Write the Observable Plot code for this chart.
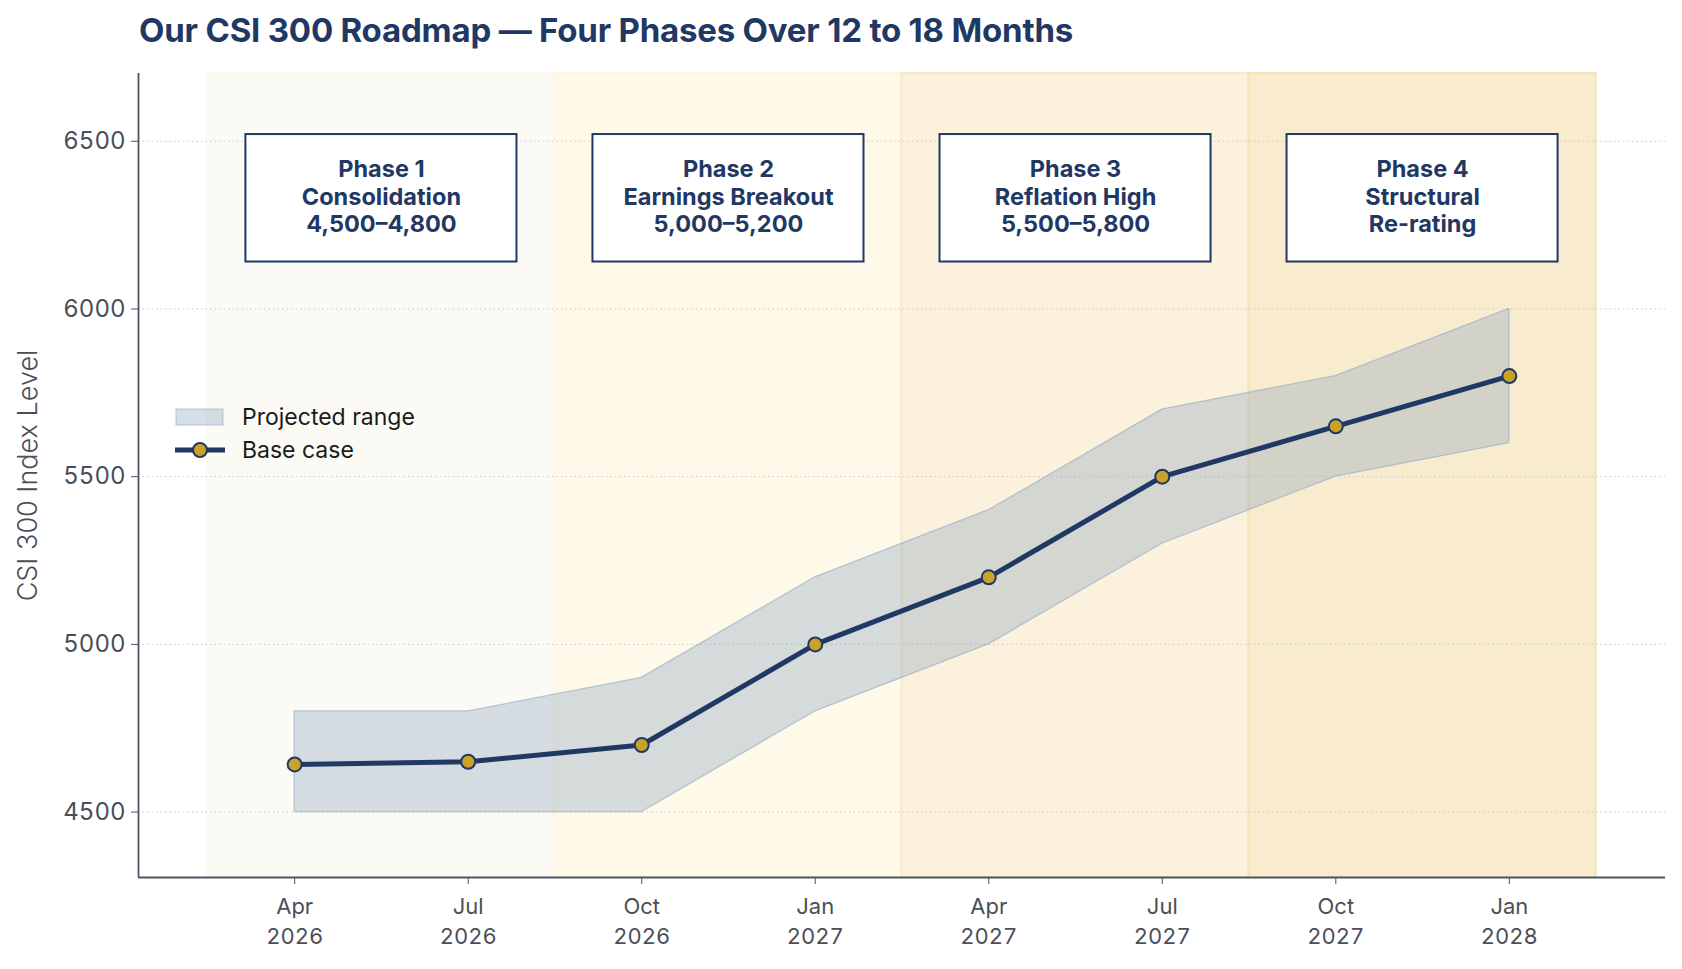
<!DOCTYPE html>
<html>
<head>
<meta charset="utf-8">
<script src="https://cdn.jsdelivr.net/npm/d3@7"></script>
<script src="https://cdn.jsdelivr.net/npm/@observablehq/plot@0.6"></script>
<style>
  html, body { margin: 0; padding: 0; background: #ffffff; }
  body { font-family: Inter, "DejaVu Sans", sans-serif; width: 1682px; height: 969px; position: relative; overflow: hidden; }
  #title { position: absolute; left: 139px; top: 10px; font-size: 33px; font-weight: 700; color: #1f3864; letter-spacing: -0.2px; white-space: nowrap; }
  #chart { position: absolute; left: 0; top: 60px; }
  #legend { position: absolute; left: 175px; top: 400px; font-size: 23px; color: #1a1a1a; }
  .lg-row { display: flex; align-items: center; height: 33px; }
  .lg-row svg { margin-right: 17px; }
</style>
</head>
<body>
<div id="title">Our CSI 300 Roadmap — Four Phases Over 12 to 18 Months</div>
<div id="chart"></div>
<div id="legend">
  <div class="lg-row"><svg width="50" height="20"><rect x="1" y="2" width="47" height="16" fill="#8aa4c0" fill-opacity="0.35" stroke="#9bb4c9" stroke-opacity="0.7"/></svg><span>Projected range</span></div>
  <div class="lg-row"><svg width="50" height="20"><line x1="0" y1="10" x2="50" y2="10" stroke="#1f3864" stroke-width="5"/><circle cx="25" cy="10" r="7" fill="#c9a227" stroke="#1f3864" stroke-width="2"/></svg><span>Base case</span></div>
</div>
<script>
// ---- data ----
const quarterLabels = ["Apr\n2026", "Jul\n2026", "Oct\n2026", "Jan\n2027", "Apr\n2027", "Jul\n2027", "Oct\n2027", "Jan\n2028"];
const baseCase  = [4642, 4650, 4700, 5000, 5200, 5500, 5650, 5800];
const rangeLow  = [4500, 4500, 4500, 4800, 5000, 5300, 5500, 5600];
const rangeHigh = [4800, 4800, 4900, 5200, 5400, 5700, 5800, 6000];
const phaseLabels = [
  "Phase 1\nConsolidation\n4,500–4,800",
  "Phase 2\nEarnings Breakout\n5,000–5,200",
  "Phase 3\nReflation High\n5,500–5,800",
  "Phase 4\nStructural\nRe-rating"
];
const phaseFirstQuarter = [0, 2, 4, 6];
const phaseLastQuarter  = [1, 3, 5, 7];
const phaseColors = ["#fcfaf5", "#fef9e8", "#fcf1dc", "#f9ebcd"];
const phaseEdges  = ["#fcf9f2", "#fdf5dd", "#f8e8c4", "#f5e3b8"];
const yTicks = [4500, 5000, 5500, 6000, 6500];
const yLabel = "CSI 300 Index Level";

// ---- tables ----
const series = quarterLabels.map((q, i) => ({i, label: q, base: baseCase[i], low: rangeLow[i], high: rangeHigh[i]}));
const phases = phaseLabels.map((p, k) => ({
  label: p,
  x1: phaseFirstQuarter[k] - 0.5,
  x2: phaseLastQuarter[k] + 0.5,
  xc: (phaseFirstQuarter[k] + phaseLastQuarter[k]) / 2,
  color: phaseColors[k],
  edge: phaseEdges[k]
}));

const navy = "#1f3864";
const axisGrey = "#4b5563";
const xDomain = [-0.9, 7.9];
const yDomain = [4305, 6702];

const chart = Plot.plot({
  width: 1682,
  height: 909,
  marginTop: 13,
  marginBottom: 92,
  marginLeft: 138,
  marginRight: 17,
  style: {fontFamily: "Inter, 'DejaVu Sans', sans-serif", background: "transparent"},
  x: {type: "linear", domain: xDomain},
  y: {domain: yDomain},
  marks: [
    // phase backgrounds
    Plot.rect(phases, {x1: "x1", x2: "x2", fill: "color", stroke: "edge", strokeWidth: 2}),
    // grid
    Plot.gridY(yTicks, {stroke: "#c8c8c8", strokeOpacity: 1, strokeDasharray: "1.5,3", strokeWidth: 1}),
    // phase boxes
    Plot.rect(phases, {x1: "x1", x2: "x2", y1: 6140, y2: 6520, insetLeft: 38, insetRight: 38, fill: "white", stroke: navy, strokeWidth: 2}),
    Plot.text(phases, {x: "xc", y: 6337, text: "label", fill: navy, fontSize: 23.5, fontWeight: 700, lineHeight: 1.16}),
    // projected range
    Plot.areaY(series, {x: "i", y1: "low", y2: "high", fill: "#8aa4c0", fillOpacity: 0.35, stroke: "#9bb4c9", strokeOpacity: 0.7, strokeWidth: 1.3}),
    // base case
    Plot.line(series, {x: "i", y: "base", stroke: navy, strokeWidth: 5}),
    Plot.dot(series, {x: "i", y: "base", r: 7, fill: "#c9a227", stroke: navy, strokeWidth: 2}),
    // axes
    Plot.axisY(yTicks, {tickSize: 7, tickPadding: 6, fontSize: 24, color: "#4a4f57", stroke: axisGrey,
      tickFormat: d => String(d), label: null}),
    Plot.text([yLabel], {frameAnchor: "left", dx: -110, rotate: -90, textAnchor: "middle", fontSize: 27, fill: "#4a4f57", fontWeight: 300}),
    Plot.axisX(d3.range(quarterLabels.length), {tickSize: 7, tickPadding: 8, fontSize: 22, color: "#4a4f57", stroke: axisGrey,
      tickFormat: i => quarterLabels[i], lineHeight: 1.38, label: null}),
    Plot.ruleX([xDomain[0]], {stroke: axisGrey, strokeWidth: 1.8}),
    Plot.ruleY([yDomain[0]], {stroke: axisGrey, strokeWidth: 1.8})
  ]
});
document.getElementById("chart").appendChild(chart);
</script>
</body>
</html>
